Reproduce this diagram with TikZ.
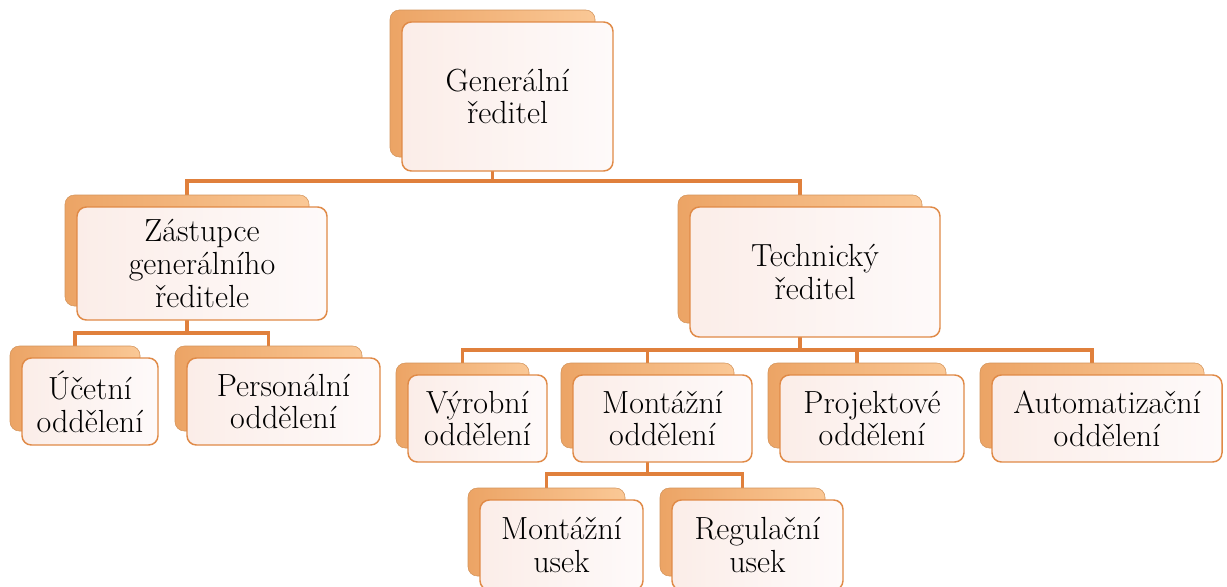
\documentclass[tikz,border=0pt]{standalone}
\usepackage{fontspec}

\pgfdeclarelayer{paper}
\pgfdeclarelayer{links}
\pgfsetlayers{paper,links,main}

\definecolor{linkc}{HTML}{E0803C}
\definecolor{edgec}{HTML}{E08A47}
\definecolor{backL}{HTML}{ECA465}
\definecolor{backR}{HTML}{FAC896}
\definecolor{frontL}{HTML}{FBEDE8}
\definecolor{frontR}{HTML}{FEFAFA}

\tikzset{
  backbox/.style={rectangle, rounded corners=7pt, inner sep=0pt, outer sep=0pt,
    left color=backL, right color=backR, draw=backL!90!black, line width=0.4pt},
  frontbox/.style={rectangle, rounded corners=7pt, inner sep=0pt, outer sep=0pt,
    left color=frontL, right color=frontR, draw=edgec, line width=1.1pt,
    align=center, font=\rmfamily\fontsize{24}{24.5}\selectfont},
  link/.style={draw=linkc, line width=2.8pt}
}

% #1 name, #2 x1, #3 y1, #4 x2, #5 y2 (front card corners), #6 label
\newcommand{\orgunit}[6]{%
  \pgfmathsetmacro\fw{(#4-#2)*0.75}%
  \pgfmathsetmacro\fh{(#5-#3)*0.75}%
  \pgfmathsetmacro\fx{(#2+#4)/2}%
  \pgfmathsetmacro\fy{(#3+#5)/2}%
  \pgfmathsetmacro\bw{(#4-#2-6)*0.75}%
  \pgfmathsetmacro\bh{(#5-#3-2)*0.75}%
  \pgfmathsetmacro\bx{(#2+#4)/2-15}%
  \pgfmathsetmacro\by{(#3+#5)/2-13}%
  \node[backbox, minimum width=\bw pt, minimum height=\bh pt] (#1b) at (\bx,\by) {};
  \node[frontbox, minimum width=\fw pt, minimum height=\fh pt] (#1) at (\fx,\fy) {#6};
}

\begin{document}
\begin{tikzpicture}[x=0.75pt,y=-0.75pt]
  \begin{pgfonlayer}{paper}
    \fill[white] (0,0) rectangle (1227,586);
  \end{pgfonlayer}
  \useasboundingbox (0,0) rectangle (1227,586);
  \clip (0,0) rectangle (1227,586);

  % cards
  \orgunit{gen}{402}{22}{613}{171}{Generální\\ředitel}
  \orgunit{zas}{77}{207}{327}{320}{Zástupce\\generálního\\ředitele}
  \orgunit{tech}{690}{207}{940}{337}{Technický\\ředitel}
  \orgunit{uct}{22}{358}{158}{445}{Účetní\\oddělení}
  \orgunit{pers}{187}{358}{380}{445}{Personální\\oddělení}
  \orgunit{vyr}{408}{375}{547}{462}{Výrobní\\oddělení}
  \orgunit{mont}{573}{375}{752}{462}{Montážní\\oddělení}
  \orgunit{proj}{780}{375}{964}{462}{Projektové\\oddělení}
  \orgunit{auto}{992}{375}{1222}{462}{Automatizační\\oddělení}
  \orgunit{musek}{480}{500}{643}{590}{Montážní\\usek}
  \orgunit{rusek}{672}{500}{843}{590}{Regulační\\usek}

  % connector bus levels
  \coordinate (lvA) at (0,181);
  \coordinate (lvB) at (0,333);
  \coordinate (lvC) at (0,350);
  \coordinate (lvD) at (0,474);

  \begin{pgfonlayer}{links}
    \draw[link] (genb) -- (genb |- lvA) -| (zasb);
    \draw[link] (genb |- lvA) -| (techb);
    \draw[link] (zasb) -- (zasb |- lvB) -| (uctb);
    \draw[link] (zasb |- lvB) -| (persb);
    \draw[link] (techb) -- (techb |- lvC) -| (vyrb);
    \draw[link] (techb |- lvC) -| (autob);
    \draw[link] (montb |- lvC) -- (montb);
    \draw[link] (projb |- lvC) -- (projb);
    \draw[link] (montb) -- (montb |- lvD) -| (musekb);
    \draw[link] (montb |- lvD) -| (rusekb);
  \end{pgfonlayer}
\end{tikzpicture}
\end{document}
